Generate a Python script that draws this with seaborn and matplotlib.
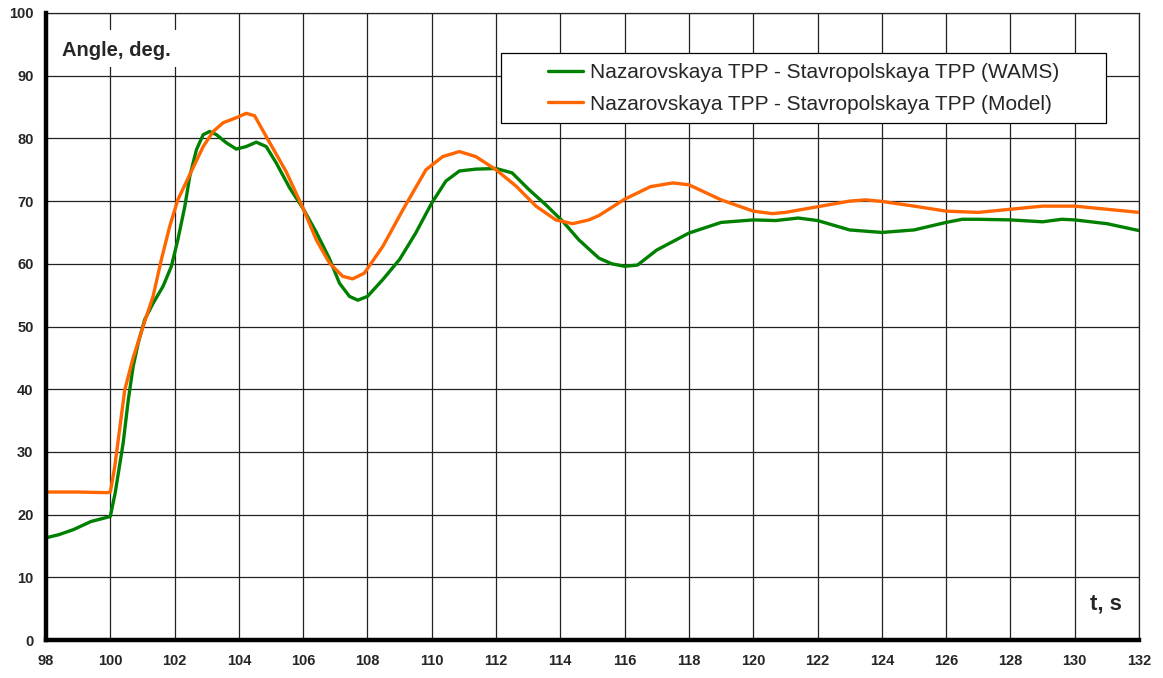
import matplotlib
matplotlib.use("Agg")
import matplotlib.pyplot as plt
from matplotlib.patches import Rectangle
import seaborn as sns
import pandas as pd

# ---- data ----
wams_t = [98.0, 98.4, 98.85, 99.4, 100.0, 100.15, 100.4, 100.56, 100.71, 100.87,
          101.07, 101.33, 101.64, 101.9, 102.1, 102.32, 102.47, 102.68, 102.89, 103.09,
          103.3, 103.61, 103.92, 104.23, 104.54, 104.85, 105.16, 105.58, 106.0, 106.41,
          106.82, 107.13, 107.44, 107.7, 108.0, 108.48, 109.0, 109.5, 110.0, 110.44,
          110.86, 111.37, 112.0, 112.5, 113.03, 113.55, 114.07, 114.58, 115.2, 115.6,
          116.0, 116.4, 117.0, 118.0, 119.0, 120.0, 120.7, 121.4, 122.0, 123.0,
          124.0, 125.0, 126.0, 126.5, 127.0, 128.0, 129.0, 129.6, 130.0, 131.0, 132.0]
wams_v = [16.3, 16.8, 17.6, 18.9, 19.7, 23.4, 31.4, 38.3, 43.6, 47.4,
          51.1, 53.7, 56.4, 59.6, 63.8, 69.2, 73.9, 78.2, 80.6, 81.1,
          80.6, 79.3, 78.3, 78.7, 79.4, 78.7, 76.1, 72.1, 68.8, 65.0,
          60.8, 56.9, 54.8, 54.2, 54.8, 57.5, 60.7, 64.9, 69.7, 73.2,
          74.8, 75.1, 75.2, 74.5, 71.8, 69.4, 66.8, 63.8, 60.9, 60.0,
          59.6, 59.8, 62.2, 64.9, 66.6, 67.0, 66.9, 67.3, 66.9, 65.4,
          65.0, 65.4, 66.6, 67.1, 67.1, 67.0, 66.7, 67.1, 67.0, 66.4, 65.3]

model_t = [98.0, 99.0, 99.9, 100.0, 100.05, 100.14, 100.3, 100.45, 100.71, 101.02,
           101.33, 101.59, 101.85, 102.1, 102.47, 102.89, 103.2, 103.51, 103.92, 104.23,
           104.49, 104.85, 105.47, 106.0, 106.41, 106.82, 107.23, 107.54, 107.9, 108.48,
           109.1, 109.82, 110.34, 110.86, 111.37, 112.0, 112.62, 113.24, 113.86, 114.38,
           114.89, 115.2, 116.0, 116.8, 117.5, 118.0, 119.0, 120.0, 120.6, 121.0,
           122.0, 123.0, 123.5, 124.0, 125.0, 126.0, 127.0, 128.0, 129.0, 130.0,
           131.0, 132.0]
model_v = [23.6, 23.6, 23.5, 23.6, 25.0, 27.7, 34.0, 39.9, 45.0, 50.0,
           54.8, 60.7, 66.0, 70.2, 74.2, 78.7, 81.1, 82.5, 83.3, 84.0,
           83.6, 80.3, 74.7, 68.8, 63.8, 60.1, 58.0, 57.6, 58.5, 62.8,
           68.6, 75.0, 77.1, 77.9, 77.1, 75.0, 72.4, 69.2, 67.0, 66.4,
           67.0, 67.7, 70.3, 72.3, 72.9, 72.6, 70.2, 68.4, 68.0, 68.2,
           69.1, 70.0, 70.2, 69.95, 69.2, 68.4, 68.2, 68.7, 69.2, 69.2,
           68.7, 68.2]

series_names = ["Nazarovskaya TPP - Stavropolskaya TPP (WAMS)",
                "Nazarovskaya TPP - Stavropolskaya TPP (Model)"]
x_ticks = list(range(98, 133, 2))
y_ticks = list(range(0, 101, 10))
y_label = "Angle, deg."
x_label = "t, s"

df = pd.concat([
    pd.DataFrame({"t": wams_t, "v": wams_v, "series": series_names[0]}),
    pd.DataFrame({"t": model_t, "v": model_v, "series": series_names[1]}),
], ignore_index=True)

sns.set_style("white")
plt.rcParams['font.family'] = ['Liberation Sans', 'DejaVu Sans']

W, H = 1163, 678
L, R, T, B = 46, 1139, 13, 640
fig = plt.figure(figsize=(W / 100, H / 100), dpi=100)
ax = fig.add_axes([L / W, (H - B) / H, (R - L) / W, (B - T) / H])

def ax_xy(px, py):
    return ((px - L) / (R - L), (B - py) / (B - T))

sns.lineplot(data=df, x="t", y="v", hue="series", sort=False,
             palette={series_names[0]: "#008000", series_names[1]: "#FF6600"},
             linewidth=2.4, ax=ax, zorder=3)

ax.set_xlim(98, 132)
ax.set_ylim(0, 100)
ax.set_xticks(x_ticks)
ax.set_yticks(y_ticks)
ax.set_xticklabels([str(v) for v in x_ticks], fontweight="bold", fontsize=10.5)
ax.set_yticklabels([str(v) for v in y_ticks], fontweight="bold", fontsize=10.5)
ax.tick_params(axis="x", length=0, pad=10)
ax.tick_params(axis="y", length=0, pad=9)
ax.set_xlabel("")
ax.set_ylabel("")
ax.grid(True, color="#222222", linewidth=0.9)
ax.set_axisbelow(True)

for side in ["top", "right"]:
    ax.spines[side].set_linewidth(0.9)
    ax.spines[side].set_color("#222222")
for side in ["left", "bottom"]:
    ax.spines[side].set_linewidth(3.2)
    ax.spines[side].set_color("black")
    ax.spines[side].set_zorder(5)

# white patch behind axis title
bx0, by0 = ax_xy(56, 67)
bx1, by1 = ax_xy(177, 30)
ax.add_patch(Rectangle((bx0, by0), bx1 - bx0, by1 - by0, transform=ax.transAxes,
                       facecolor="white", edgecolor="none", zorder=2.5))
tx, ty = ax_xy(62, 50)
ax.text(tx, ty, y_label, transform=ax.transAxes, fontsize=14.5,
        fontweight="bold", ha="left", va="center", zorder=4)
sx, sy = ax_xy(1122, 604)
ax.text(sx, sy, x_label, transform=ax.transAxes, fontsize=16,
        fontweight="bold", ha="right", va="center", zorder=4)

# legend frame
lx0, ly0 = ax_xy(501, 123)
lx1, ly1 = ax_xy(1106, 53)
ax.add_patch(Rectangle((lx0, ly0), lx1 - lx0, ly1 - ly0, transform=ax.transAxes,
                       facecolor="white", edgecolor="black", linewidth=0.9,
                       zorder=5))
cx, cy = ax_xy((501 + 1106) / 2, 88.5)
leg = ax.legend(loc="center", bbox_to_anchor=(cx, cy), frameon=False,
                fontsize=15, handlelength=1.7, handletextpad=0.3,
                labelspacing=0.6, borderpad=0, borderaxespad=0)
leg.set_zorder(6)
for line in leg.get_lines():
    line.set_linewidth(2.4)

fig.savefig("out.png", dpi=100, facecolor="white")
